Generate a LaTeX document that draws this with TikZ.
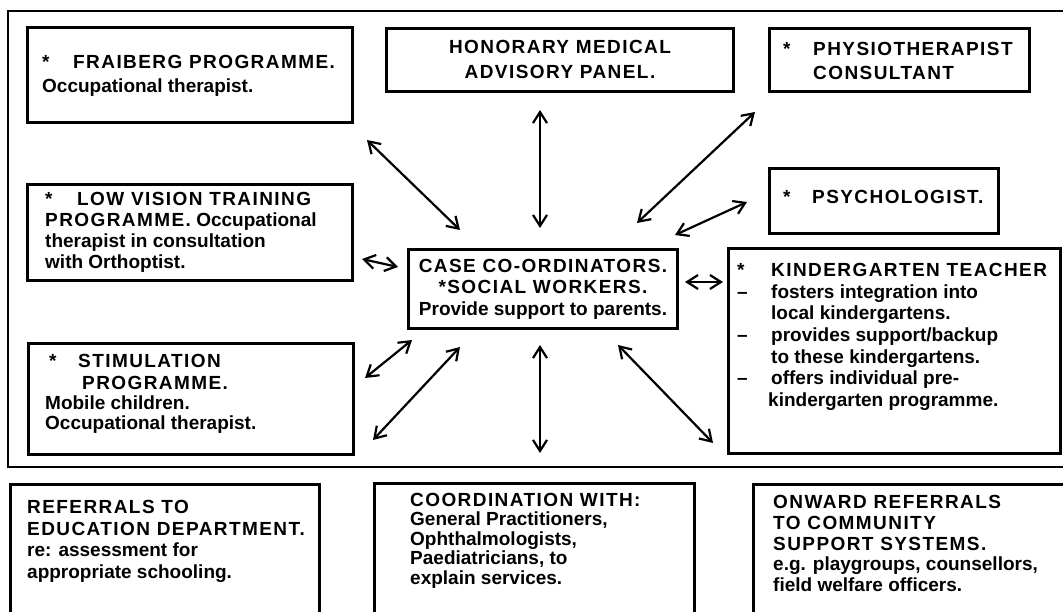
\documentclass[tikz,border=0pt]{standalone}
\usepackage{fontspec}
\setmainfont{Liberation Sans}
\usetikzlibrary{arrows.meta}
\newcommand\cp[1]{{\addfontfeature{LetterSpace=7.5}#1}}
\begin{document}
\begin{tikzpicture}[x=1pt,y=-1pt,
 frame/.style={line width=2.2pt},
 box/.style={draw, line width=2.6pt, anchor=north west, inner sep=0pt},
 txt/.style={anchor=north west, inner sep=0pt, align=left, font=\bfseries\fontsize{19}{#1}\selectfont},
 txt/.default=22,
 ctxt/.style={anchor=north, inner sep=0pt, align=center, font=\bfseries\fontsize{19}{#1}\selectfont},
 ctxt/.default=22,
 arr/.style={{Straight Barb[length=11pt,width=14pt]}-{Straight Barb[length=11pt,width=14pt]}, line width=2.2pt}]
\path[use as bounding box] (0,0) rectangle (1063,612);
\clip (0,0) rectangle (1063,612);
% outer frame (open on the right)
\draw[frame] (1070,11) -- (8,11) -- (8,467) -- (1070,467);
% boxes
\node[box, minimum width=325, minimum height=95] (fraiberg) at (26,26) {};
\node[box, minimum width=347, minimum height=63] (honorary) at (385,27) {};
\node[box, minimum width=260, minimum height=63] (physio) at (768,27) {};
\node[box, minimum width=229, minimum height=65] (psych) at (768,167) {};
\node[box, minimum width=325, minimum height=96] (lowvision) at (26,183) {};
\node[box, minimum width=325, minimum height=111] (stim) at (27,342) {};
\node[box, minimum width=269, minimum height=79] (case) at (407,248) {};
\node[box, minimum width=332, minimum height=205] (kinder) at (727,247) {};
\node[box, minimum width=309, minimum height=150] (referrals) at (9,483) {};
\node[box, minimum width=320, minimum height=150] (coord) at (373,482) {};
\node[box, minimum width=330, minimum height=150] (onward) at (752,483) {};
% texts
\node[txt=24] (tfraiberg) at (42,55) {\makebox[31pt][l]{*}\cp{FRAIBERG PROGRAMME.}\\ Occupational therapist.};
\node[ctxt=25] (thonorary) at (560,40) {\cp{HONORARY MEDICAL}\\ \cp{ADVISORY PANEL.}};
\node[txt=24] (tphysio) at (783,42) {\makebox[30pt][l]{*}\cp{PHYSIOTHERAPIST}\\ \hspace*{30pt}\cp{CONSULTANT}};
\node[txt] (tpsych) at (783,190) {\makebox[29pt][l]{*}\cp{PSYCHOLOGIST.}};
\node[txt=21] (tlowvision) at (45,192) {\makebox[32pt][l]{*}\cp{LOW VISION TRAINING}\\ \cp{PROGRAMME.} Occupational\\ therapist in consultation\\ with Orthoptist.};
\node[txt=20] (tstim) at (45,354) {\hspace*{4pt}\makebox[29pt][l]{*}\cp{STIMULATION}\\[2pt] \hspace*{37pt}\cp{PROGRAMME.}\\ Mobile children.\\ Occupational therapist.};
\node[ctxt=21.5] (tcase) at (543,259) {\cp{CASE CO-ORDINATORS.}\\ \cp{*SOCIAL WORKERS.}\\ Provide support to parents.};
\node[txt=21.67] (tkinder) at (737,263) {\makebox[34pt][l]{*}\cp{KINDERGARTEN TEACHER}\\ \makebox[34pt][l]{--}fosters integration into\\ \hspace*{34pt}local kindergartens.\\ \makebox[34pt][l]{--}provides support/backup\\ \hspace*{34pt}to these kindergartens.\\ \makebox[34pt][l]{--}offers individual pre-\\ \hspace*{31pt}kindergarten programme.};
\node[txt=21.7] (treferrals) at (27,500) {\cp{REFERRALS TO}\\ \cp{EDUCATION DEPARTMENT.}\\ re: assessment for\\ appropriate schooling.};
\node[txt=19.5] (tcoord) at (410,493) {\cp{COORDINATION WITH:}\\ General Practitioners,\\ Ophthalmologists,\\ Paediatricians, to\\ explain services.};
\node[txt=20.8] (tonward) at (773,495) {\cp{ONWARD REFERRALS}\\ \cp{TO COMMUNITY}\\ \cp{SUPPORT SYSTEMS.}\\ e.g. playgroups, counsellors,\\ field welfare officers.};
% arrow end points
\coordinate (a1s) at (367,140); \coordinate (a1e) at (460,230);
\coordinate (a2s) at (540,110); \coordinate (a2e) at (540,228);
\coordinate (a3s) at (755,112); \coordinate (a3e) at (637,223);
\coordinate (a4s) at (747,202); \coordinate (a4e) at (675,235);
\coordinate (a5s) at (362,259); \coordinate (a5e) at (398,267);
\coordinate (a6s) at (685,282); \coordinate (a6e) at (723,282);
\coordinate (a7s) at (365,378); \coordinate (a7e) at (412,340);
\coordinate (a8s) at (373,440); \coordinate (a8e) at (460,347);
\coordinate (a9s) at (540,345); \coordinate (a9e) at (540,453);
\coordinate (a10s) at (618,345); \coordinate (a10e) at (713,443);
\foreach \i in {1,...,10} {\draw[arr] (a\i s) -- (a\i e);}
\end{tikzpicture}
\end{document}
